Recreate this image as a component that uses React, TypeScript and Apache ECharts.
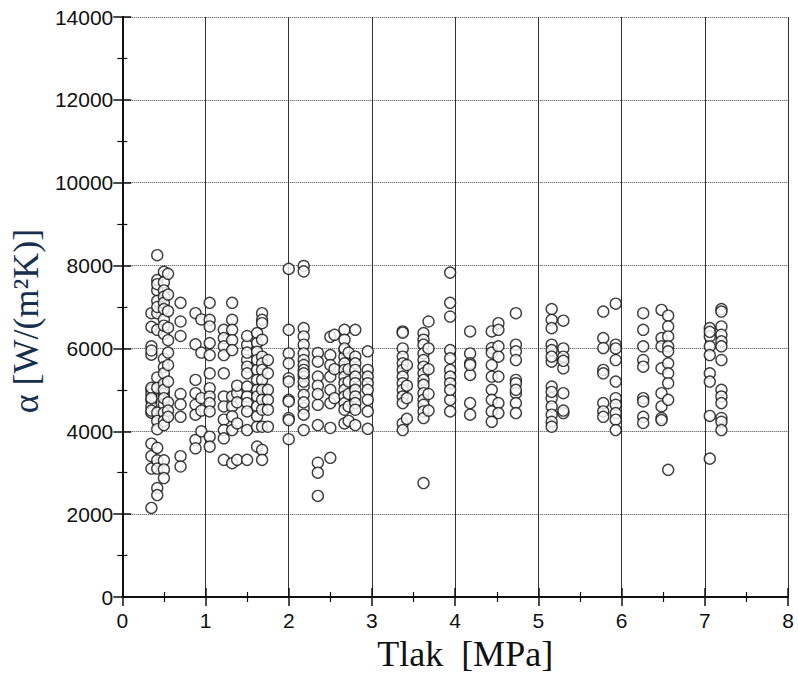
import React, { useEffect, useRef } from "react";
import * as echarts from "echarts";

// Pressure columns (MPa) and the heat-transfer coefficients measured at each
const columnX: number[] = [
  0.35, 0.42, 0.5, 0.55, 0.7, 0.88, 0.95, 1.05, 1.22, 1.32, 1.38, 1.5, 1.62, 1.68, 1.75,
  2.0, 2.18, 2.35, 2.5, 2.55, 2.67, 2.72, 2.8, 2.95,
  3.37, 3.42, 3.62, 3.68, 3.94, 4.18, 4.44, 4.52, 4.73,
  5.16, 5.3, 5.78, 5.93, 6.26, 6.48, 6.56, 7.06, 7.2,
];

const columnY: number[][] = [
  [6850, 6520, 6050, 5850, 5000, 4900, 4750, 4600, 4450, 3700, 3400, 3100, 2150, 5950, 5050, 4800, 4500],
  [8250, 7650, 7400, 7150, 6850, 6450, 5300, 5050, 4450, 4250, 4050, 3600, 3300, 3100, 2630, 2460, 7550, 7000],
  [7850, 7600, 7400, 7250, 7100, 6950, 6700, 6350, 5750, 5550, 5400, 5150, 4900, 4650, 4450, 4250, 4150, 3300, 3080, 2870, 6550, 5000, 4800],
  [7800, 7300, 6900, 6500, 6200, 5900, 5600, 5200, 4700, 4500, 4350],
  [7100, 6650, 6300, 4900, 4650, 4350, 3400, 3150],
  [6850, 6100, 5240, 4920, 4640, 4400, 3790, 3590],
  [6700, 5900, 4800, 4500, 4000],
  [7100, 6690, 6530, 6130, 5840, 5400, 5040, 4840, 4680, 4480, 3870, 3630],
  [6450, 6250, 6050, 5840, 5400, 4840, 4600, 4280, 4030, 3830, 3310],
  [7100, 6690, 6450, 6200, 5960, 4840, 4600, 4360, 4030, 3230],
  [4920, 4190, 3310, 5100, 4700],
  [6080, 5720, 5560, 5400, 5080, 4840, 4680, 4480, 4030, 3310, 6300, 5900],
  [6370, 6130, 5920, 5720, 5480, 5240, 5000, 4840, 4600, 4360, 4110, 3630],
  [6850, 6690, 6610, 6210, 5800, 5640, 5480, 5240, 5000, 4760, 4520, 4110, 3550, 3310],
  [5720, 5400, 5000, 4760, 4520, 4110],
  [7920, 6450, 5880, 5640, 5280, 5200, 4760, 4720, 4320, 4270, 3810],
  [7990, 7860, 6490, 6290, 6090, 5880, 5720, 5600, 5480, 5320, 5080, 4880, 4560, 4030, 5200, 5400, 4700, 4400],
  [5890, 5680, 5320, 4640, 4150, 3240, 3000, 2440, 5100, 4900],
  [6280, 5840, 5320, 5000, 4680, 4080, 3360, 5600],
  [6330, 5500, 4800],
  [6450, 6210, 5960, 5800, 5640, 5480, 5320, 5160, 5000, 4840, 4680, 4520, 4190, 6000],
  [5900, 5500, 5200, 4900, 4600, 4250],
  [6450, 5800, 5640, 5480, 5320, 5160, 5000, 4840, 4680, 4520, 4150],
  [5930, 5480, 5320, 5160, 5000, 4760, 4480, 4060],
  [6410, 6000, 5800, 5640, 5480, 5320, 5160, 5000, 4840, 4680, 4190, 4030, 6380],
  [5600, 5100, 4800, 4300],
  [6370, 6210, 6090, 5880, 5720, 5560, 5400, 5240, 5120, 4920, 4760, 4640, 4480, 4320, 2750],
  [6650, 6000, 5500, 4900, 4500],
  [7830, 7100, 6770, 5960, 5760, 5480, 5320, 5160, 4760, 4480, 5000],
  [6410, 5880, 5640, 5360, 4680, 4400, 5600],
  [6410, 6010, 5600, 5320, 5000, 4760, 4480, 4230, 5900],
  [6610, 6450, 6050, 5320, 4680, 4440, 5800],
  [6850, 6090, 5930, 5720, 5240, 5160, 4920, 4680, 4440, 5000],
  [6950, 6690, 6490, 6090, 5960, 5680, 5080, 4800, 4600, 4400, 4230, 4110, 5800, 4950],
  [6670, 6000, 5800, 5520, 4920, 4440, 5700, 4500],
  [6890, 6250, 6010, 5480, 5400, 4680, 4480, 4350],
  [7080, 6090, 5720, 5200, 4800, 4640, 4440, 4280, 4030, 6000],
  [6850, 6450, 6050, 5720, 5560, 4800, 4720, 4350, 4200],
  [6930, 6250, 6050, 5520, 4920, 4600, 4320, 4270],
  [6790, 6530, 6290, 6050, 5930, 5640, 5400, 5160, 4760, 3070],
  [6490, 6290, 6050, 5840, 5400, 5200, 4370, 3340, 6400],
  [6950, 6890, 6530, 6330, 6170, 6050, 5720, 5000, 4840, 4680, 4320, 4230, 4030],
];

const xTickLabels = ["0", "1", "2", "3", "4", "5", "6", "7", "8"];
const yTickLabels = ["0", "2000", "4000", "6000", "8000", "10000", "12000", "14000"];

const xName = "Tlak  [MPa]";
const yName = "α [W/(m²K)]";

export default function App() {
  const ref = useRef<HTMLDivElement>(null);

  useEffect(() => {
    if (!ref.current) return;
    const chart = echarts.init(ref.current, undefined, { renderer: "svg" });

    const points: number[][] = [];
    columnX.forEach((x, i) => {
      columnY[i].forEach((y) => points.push([x, y]));
    });

    const labelFont = {
      fontFamily: "'Liberation Sans', Arial, sans-serif",
      fontSize: 21,
      color: "#111",
    };

    const frameAxisCommon = {
      axisLine: { show: true, lineStyle: { color: "#111", width: 2 } },
      axisTick: { show: true, inside: true, length: 9, lineStyle: { color: "#111", width: 1.5 } },
      minorTick: { show: true, splitNumber: 2, length: 5, lineStyle: { color: "#111", width: 1.2 } },
    };

    chart.setOption({
      animation: false,
      backgroundColor: "#fff",
      grid: { left: 121, right: 10, top: 17, bottom: 84, containLabel: false },
      xAxis: [
        {
          type: "value",
          min: 0,
          max: 8,
          interval: 1,
          position: "bottom",
          ...frameAxisCommon,
          axisLabel: {
            ...labelFont,
            margin: 13,
            formatter: (v: number) => xTickLabels[Math.round(v)] ?? String(v),
          },
          splitLine: { show: true, lineStyle: { color: "#333", width: 1, type: "solid" } },
          name: xName,
          nameLocation: "middle",
          nameGap: 38,
          nameTextStyle: {
            fontFamily: "'Liberation Serif', 'Times New Roman', serif",
            fontSize: 36,
            color: "#111",
            padding: [0, 0, 0, 20],
          },
        },
        {
          type: "value",
          min: 0,
          max: 8,
          interval: 1,
          position: "top",
          ...frameAxisCommon,
          axisLabel: { show: false },
          splitLine: { show: false },
        },
      ],
      yAxis: [
        {
          type: "value",
          min: 0,
          max: 14000,
          interval: 2000,
          position: "left",
          ...frameAxisCommon,
          axisLabel: {
            ...labelFont,
            margin: 9,
            formatter: (v: number) => yTickLabels[Math.round(v / 2000)] ?? String(v),
          },
          splitLine: { show: true, lineStyle: { color: "#444", width: 1, type: "dotted" } },
          name: yName,
          nameLocation: "middle",
          nameGap: 76,
          nameRotate: 90,
          nameTextStyle: {
            fontFamily: "'Liberation Serif', 'Times New Roman', serif",
            fontSize: 36,
            color: "#17304d",
            padding: [0, 28, 0, 0],
          },
        },
        {
          type: "value",
          min: 0,
          max: 14000,
          interval: 2000,
          position: "right",
          ...frameAxisCommon,
          axisLabel: { show: false },
          splitLine: { show: false },
        },
      ],
      series: [
        {
          type: "scatter",
          xAxisIndex: 0,
          yAxisIndex: 0,
          data: points,
          symbol: "circle",
          symbolSize: 11,
          itemStyle: { color: "#fff", borderColor: "#111", borderWidth: 1.4 },
          emphasis: { disabled: true },
        },
      ],
    });

    return () => chart.dispose();
  }, []);

  return (
    <div
      ref={ref}
      style={{ position: "absolute", left: 0, top: 0, width: 798, height: 681 }}
    />
  );
}
